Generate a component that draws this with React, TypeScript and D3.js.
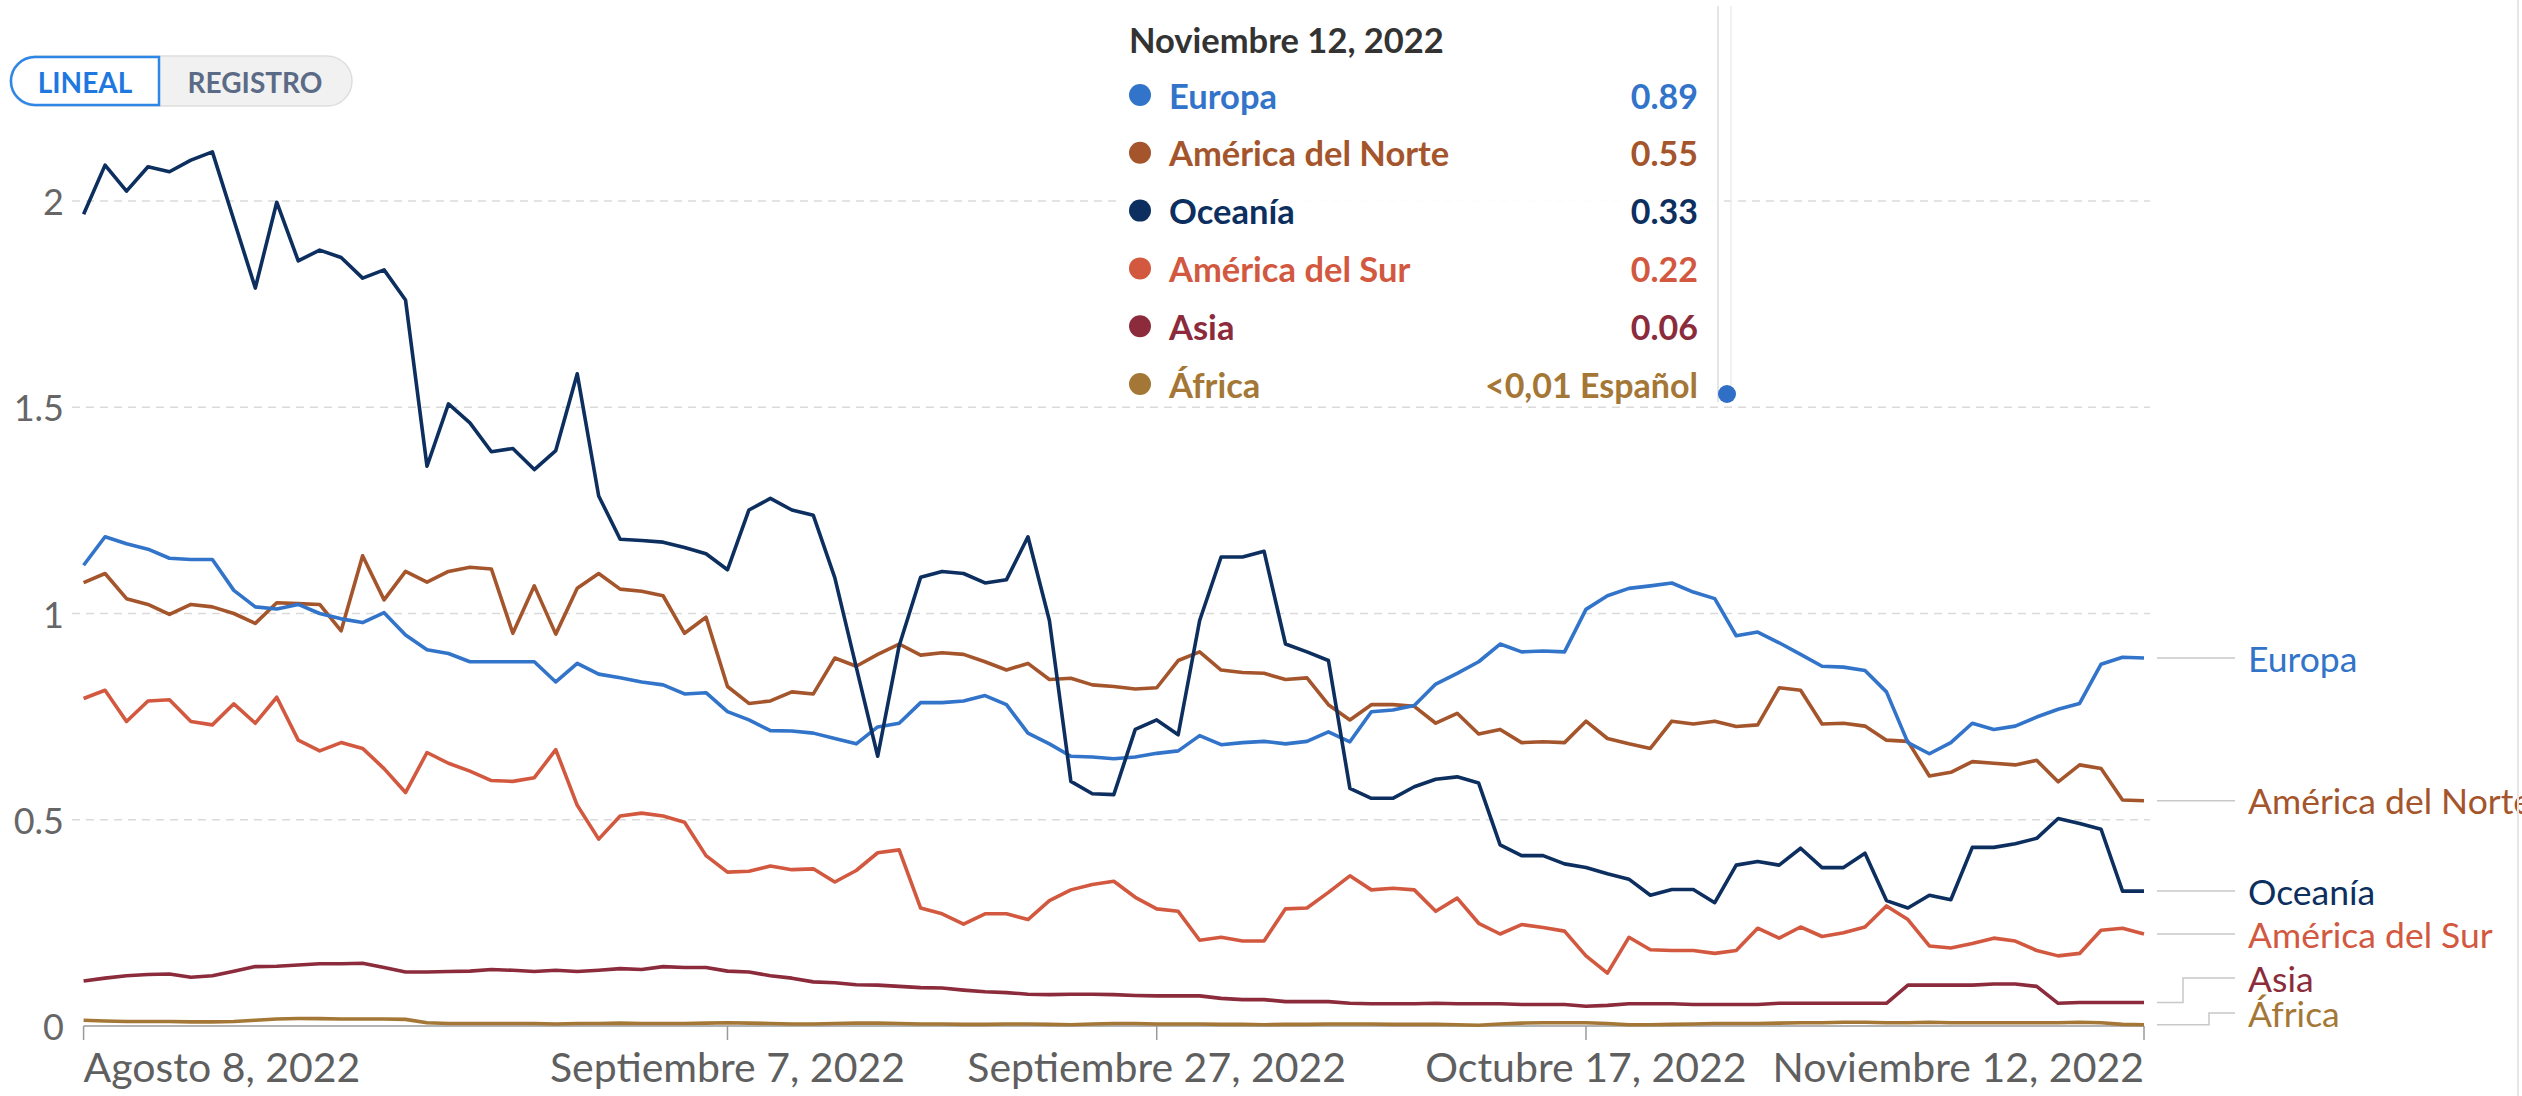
import React, { useEffect } from "react";
import * as d3 from "d3";

// daily values, Aug 8 -> Nov 12, 2022
const regions = ["Europa", "América del Norte", "Oceanía", "América del Sur", "Asia", "África"];
const colors = ["#3174c9", "#a4552c", "#0d2f5f", "#d2583f", "#8b2b3b", "#a47736"];
const tooltipValues = ["0.89", "0.55", "0.33", "0.22", "0.06", "<0,01 Español"];

const europa = [
  1.117, 1.186, 1.169, 1.156, 1.134, 1.131, 1.131, 1.056, 1.016, 1.011, 1.022, 1.0, 0.987, 0.978, 1.002, 0.948, 0.912,
  0.903, 0.883, 0.883, 0.883, 0.883, 0.834, 0.879, 0.853, 0.844, 0.834, 0.827, 0.805, 0.808, 0.762, 0.742, 0.716, 0.715,
  0.71, 0.697, 0.684, 0.725, 0.734, 0.784, 0.784, 0.788, 0.801, 0.779, 0.71, 0.684, 0.654, 0.652, 0.648, 0.652, 0.661,
  0.667, 0.704, 0.682, 0.687, 0.69, 0.684, 0.69, 0.713, 0.689, 0.762, 0.766, 0.777, 0.829, 0.855, 0.883, 0.926, 0.907,
  0.909, 0.907, 1.01, 1.043, 1.061, 1.067, 1.074, 1.052, 1.036, 0.946, 0.955, 0.929, 0.901, 0.872, 0.87, 0.862, 0.81,
  0.687, 0.66, 0.687, 0.734, 0.719, 0.727, 0.749, 0.768, 0.782, 0.877, 0.894, 0.892,
];
const norteamerica = [
  1.075, 1.097, 1.036, 1.022, 0.998, 1.022, 1.016, 1.0, 0.976, 1.026, 1.024, 1.022, 0.958, 1.14, 1.033, 1.102, 1.076,
  1.102, 1.112, 1.108, 0.952, 1.067, 0.95, 1.061, 1.097, 1.059, 1.054, 1.043, 0.952, 0.991, 0.823, 0.782, 0.788, 0.81,
  0.805, 0.892, 0.872, 0.901, 0.926, 0.899, 0.905, 0.901, 0.883, 0.863, 0.879, 0.84, 0.843, 0.827, 0.823, 0.817, 0.82,
  0.886, 0.907, 0.863, 0.857, 0.855, 0.84, 0.844, 0.779, 0.742, 0.779, 0.779, 0.775, 0.734, 0.758, 0.708, 0.719, 0.687,
  0.689, 0.687, 0.739, 0.697, 0.684, 0.673, 0.739, 0.732, 0.739, 0.726, 0.73, 0.82, 0.814, 0.732, 0.734, 0.727, 0.693,
  0.69, 0.606, 0.615, 0.641, 0.637, 0.633, 0.644, 0.592, 0.633, 0.624, 0.548, 0.546,
];
const oceania = [
  1.968, 2.087, 2.024, 2.083, 2.071, 2.099, 2.119, 1.954, 1.789, 1.997, 1.855, 1.881, 1.863, 1.813, 1.833, 1.76, 1.357,
  1.508, 1.462, 1.392, 1.4, 1.349, 1.395, 1.581, 1.285, 1.18, 1.177, 1.173, 1.16, 1.145, 1.106, 1.251, 1.279, 1.251,
  1.238, 1.087, 0.87, 0.654, 0.922, 1.088, 1.102, 1.097, 1.074, 1.082, 1.186, 0.983, 0.593, 0.563, 0.561, 0.719, 0.742,
  0.706, 0.983, 1.137, 1.137, 1.151, 0.926, 0.907, 0.886, 0.576, 0.552, 0.552, 0.58, 0.598, 0.604, 0.589, 0.439, 0.413,
  0.413, 0.393, 0.384, 0.369, 0.356, 0.317, 0.331, 0.331, 0.299, 0.39, 0.399, 0.39, 0.431, 0.384, 0.384, 0.419, 0.304,
  0.286, 0.317, 0.306, 0.433, 0.433, 0.442, 0.455, 0.503, 0.491, 0.477, 0.327, 0.327,
];
const sudamerica = [
  0.794, 0.814, 0.738, 0.788, 0.791, 0.738, 0.73, 0.781, 0.734, 0.797, 0.693, 0.667, 0.687, 0.673, 0.624, 0.566, 0.663,
  0.637, 0.618, 0.595, 0.593, 0.602, 0.67, 0.535, 0.453, 0.509, 0.516, 0.509, 0.494, 0.413, 0.373, 0.375, 0.388, 0.379,
  0.381, 0.349, 0.377, 0.42, 0.427, 0.286, 0.272, 0.247, 0.272, 0.272, 0.258, 0.304, 0.33, 0.343, 0.351, 0.312, 0.284,
  0.278, 0.208, 0.215, 0.206, 0.206, 0.284, 0.286, 0.324, 0.364, 0.33, 0.334, 0.33, 0.278, 0.31, 0.249, 0.223, 0.246,
  0.239, 0.23, 0.17, 0.128, 0.215, 0.185, 0.183, 0.183, 0.176, 0.183, 0.237, 0.213, 0.24, 0.217, 0.226, 0.24, 0.291,
  0.258, 0.194, 0.189, 0.2, 0.213, 0.206, 0.183, 0.17, 0.176, 0.232, 0.237, 0.223,
];
const asia = [
  0.109, 0.116, 0.122, 0.125, 0.126, 0.118, 0.122, 0.133, 0.144, 0.145, 0.148, 0.151, 0.151, 0.152, 0.142, 0.131, 0.131,
  0.132, 0.133, 0.137, 0.135, 0.132, 0.135, 0.132, 0.135, 0.139, 0.137, 0.144, 0.142, 0.142, 0.133, 0.131, 0.122, 0.116,
  0.107, 0.105, 0.1, 0.099, 0.096, 0.093, 0.092, 0.087, 0.083, 0.081, 0.077, 0.076, 0.077, 0.077, 0.076, 0.074, 0.073,
  0.073, 0.073, 0.067, 0.064, 0.064, 0.059, 0.059, 0.059, 0.055, 0.054, 0.054, 0.054, 0.055, 0.054, 0.054, 0.054, 0.052,
  0.052, 0.052, 0.048, 0.05, 0.054, 0.054, 0.054, 0.052, 0.052, 0.052, 0.052, 0.055, 0.055, 0.055, 0.055, 0.055, 0.055,
  0.099, 0.099, 0.099, 0.099, 0.102, 0.102, 0.096, 0.055, 0.057, 0.057, 0.057, 0.057,
];
const africa = [
  0.014, 0.012, 0.011, 0.011, 0.011, 0.01, 0.01, 0.011, 0.014, 0.017, 0.018, 0.018, 0.017, 0.017, 0.017, 0.016, 0.008,
  0.006, 0.006, 0.006, 0.006, 0.006, 0.005, 0.006, 0.006, 0.007, 0.006, 0.006, 0.006, 0.007, 0.008, 0.007, 0.006, 0.005,
  0.005, 0.006, 0.007, 0.007, 0.006, 0.005, 0.005, 0.004, 0.004, 0.005, 0.005, 0.004, 0.003, 0.005, 0.006, 0.006, 0.005,
  0.005, 0.005, 0.004, 0.004, 0.003, 0.004, 0.004, 0.005, 0.005, 0.005, 0.004, 0.004, 0.004, 0.003, 0.002, 0.005, 0.007,
  0.008, 0.008, 0.008, 0.006, 0.003, 0.003, 0.004, 0.005, 0.006, 0.006, 0.006, 0.007, 0.008, 0.008, 0.009, 0.009, 0.008,
  0.008, 0.009, 0.008, 0.008, 0.008, 0.008, 0.008, 0.008, 0.009, 0.008, 0.004, 0.003,
];

const yTicks = [0, 0.5, 1, 1.5, 2];
const tickDates = ["2022-08-08", "2022-09-07", "2022-09-27", "2022-10-17", "2022-11-12"];
const tickLabels = ["Agosto 8, 2022", "Septiembre 7, 2022", "Septiembre 27, 2022", "Octubre 17, 2022", "Noviembre 12, 2022"];
const tooltipTitle = "Noviembre 12, 2022";

const W = 2522;
const H = 1096;
const FONT = "Lato, 'Noto Sans', sans-serif";

const App = () => {
  useEffect(() => {
    document.body.style.margin = "0";
  }, []);

  const series = [europa, norteamerica, oceania, sudamerica, asia, africa];
  const start = new Date(2022, 7, 8);
  const end = d3.timeDay.offset(start, europa.length - 1);
  const parse = d3.timeParse("%Y-%m-%d");

  const x = d3.scaleTime().domain([start, end]).range([83.6, 2144]);
  const y = d3.scaleLinear().domain([0, 2]).range([1026, 201]);

  const line = d3
    .line<number>()
    .x((_, i) => x(d3.timeDay.offset(start, i)))
    .y((d) => y(d));

  // end labels, pushed up when they collide
  const endX = x(end);
  const order = series
    .map((s, i) => ({ i, yv: y(s[s.length - 1]) }))
    .sort((a, b) => b.yv - a.yv);
  let limit = y(0) - 13;
  const labelY: number[] = [];
  order.forEach((o) => {
    const ly = Math.min(o.yv, limit);
    labelY[o.i] = ly;
    limit = ly - 35;
  });
  let elbowStep = 0;

  return (
    <svg width={W} height={H} style={{ display: "block", background: "#fff", fontFamily: FONT }}>
      {/* buttons */}
      <g>
        <rect x={10} y={56} width={342} height={50} rx={25} fill="#f1f1f2" stroke="#dedede" strokeWidth={1.5} />
        <path d="M 159 57 L 35 57 A 24 24 0 0 0 35 105 L 159 105 Z" fill="#fff" stroke="#2e86e6" strokeWidth={2.5} />
        <text x={85} y={82} textAnchor="middle" dominantBaseline="central" fontSize={28} fontWeight={700} fill="#1f78e0">
          LINEAL
        </text>
        <text x={255} y={82} textAnchor="middle" dominantBaseline="central" fontSize={28} fontWeight={700} fill="#5b6b86">
          REGISTRO
        </text>
      </g>

      {/* grid */}
      {yTicks.map((t) => (
        <g key={t}>
          {t > 0 && (
            <line x1={72} x2={2150} y1={y(t)} y2={y(t)} stroke="#dadada" strokeWidth={1.5} strokeDasharray="8,6" />
          )}
          <text x={64} y={y(t)} textAnchor="end" dominantBaseline="central" fontSize={36} fill="#666">
            {t}
          </text>
        </g>
      ))}

      {/* x axis */}
      <line x1={x(start)} x2={endX} y1={y(0)} y2={y(0)} stroke="#9a9a9a" strokeWidth={1.5} />
      {tickDates.map((td, i) => {
        const tx = x(parse(td)!);
        const anchor = i === 0 ? "start" : i === tickDates.length - 1 ? "end" : "middle";
        return (
          <g key={td}>
            <line x1={tx} x2={tx} y1={y(0)} y2={y(0) + 14} stroke="#9a9a9a" strokeWidth={1.5} />
            <text x={tx} y={1066} textAnchor={anchor} dominantBaseline="central" fontSize={41} fill="#5f5f5f">
              {tickLabels[i]}
            </text>
          </g>
        );
      })}

      {/* lines */}
      {[5, 4, 3, 1, 0, 2].map((i) => (
        <path
          key={regions[i]}
          d={line(series[i]) ?? ""}
          fill="none"
          stroke={colors[i]}
          strokeWidth={3.6}
          strokeLinejoin="round"
        />
      ))}

      {/* end labels */}
      {series.map((s, i) => {
        const yv = y(s[s.length - 1]);
        const ly = labelY[i];
        let d = `M ${endX + 13} ${yv} H 2235`;
        if (Math.abs(ly - yv) > 1) {
          const ex = 2183 + 26 * elbowStep++;
          d = `M ${endX + 13} ${yv} H ${ex} V ${ly} H 2235`;
        }
        return (
          <g key={regions[i]}>
            <path d={d} fill="none" stroke="#c8c8c8" strokeWidth={1.5} />
            <text x={2248} y={ly} dominantBaseline="central" fontSize={35.5} fill={colors[i]}>
              {regions[i]}
            </text>
          </g>
        );
      })}

      {/* tooltip */}
      <g>
        <rect x={1121} y={6} width={597} height={396} fill="#fff" fillOpacity={0.9} />
        <line x1={1718} x2={1718} y1={6} y2={402} stroke="#dcdcdc" strokeWidth={1.5} />
        <line x1={1731} x2={1731} y1={6} y2={402} stroke="#ececec" strokeWidth={1.5} />
        <text x={1129} y={39} dominantBaseline="central" fontSize={34.5} fontWeight={700} fill="#333">
          {tooltipTitle}
        </text>
        {regions.map((r, i) => {
          const ry = 95 + i * 57.8;
          return (
            <g key={r}>
              <circle cx={1140} cy={ry} r={11} fill={colors[i]} />
              <text x={1169} y={ry} dominantBaseline="central" fontSize={34.5} fontWeight={700} fill={colors[i]}>
                {r}
              </text>
              <text x={1698} y={ry} textAnchor="end" dominantBaseline="central" fontSize={34} fontWeight={700} fill={colors[i]}>
                {tooltipValues[i]}
              </text>
            </g>
          );
        })}
        <circle cx={1727} cy={394} r={9} fill="#2f6fc6" />
      </g>

      <line x1={2518} x2={2518} y1={0} y2={H} stroke="#e6e6e6" strokeWidth={2} />
    </svg>
  );
};

export default App;
